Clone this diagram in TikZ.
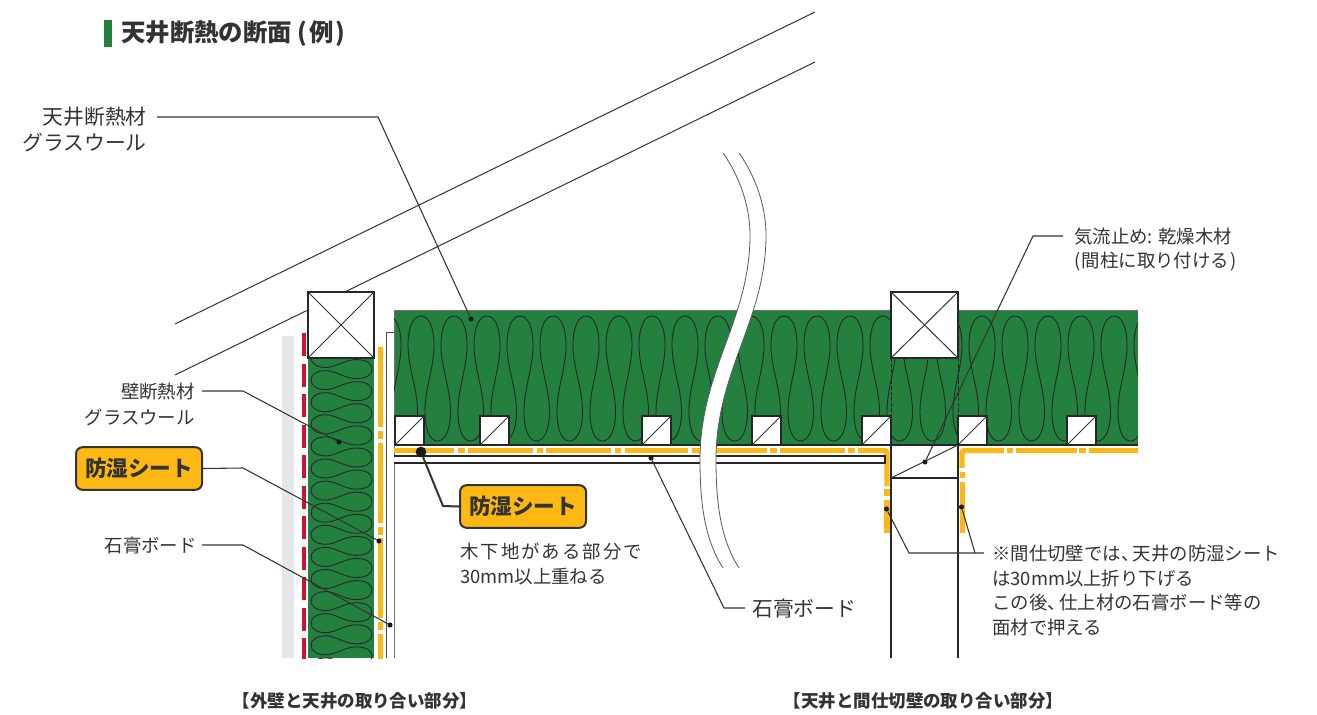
\documentclass[tikz,border=0pt]{standalone}
\usepackage{fontspec}
\setmainfont{Noto Sans CJK JP}
\definecolor{ins}{HTML}{23803F}
\definecolor{amber}{HTML}{FDB813}
\definecolor{redsheet}{HTML}{D0122C}
\definecolor{ink}{HTML}{333333}
\definecolor{board}{HTML}{E6E7E8}
\tikzset{
  px/.style={x=0.75pt,y=-0.75pt},
  txt/.style={inner sep=0pt,text=ink,anchor=west,yshift=-0.7pt},
  txtr/.style={inner sep=0pt,text=ink,anchor=east,yshift=-0.7pt},
  big/.style={font=\fontsize{15.6}{18}\selectfont},
  mid/.style={font=\fontsize{13.8}{16}\selectfont},
  capt/.style={inner sep=0pt,text=ink,font=\bfseries\fontsize{13.1}{15}\selectfont},
  badge/.style={draw=ink,fill=amber,line width=1.5pt,rounded corners=5pt,minimum width=94.5pt,minimum height=32pt,inner sep=0pt,text=ink,font=\bfseries\fontsize{16.2}{18}\selectfont},
  wave/.style={draw=black!85,line width=0.65pt},
  post/.style={draw=black!85,fill=white,line width=1.4pt},
  thin/.style={draw=ink,line width=0.75pt},
  leader/.style={draw=ink,line width=0.8pt},
  dot/.style={circle,fill=black!90,inner sep=0pt,minimum size=3.8pt},
  orange/.style={draw=amber,line width=4pt},
}
\newcommand{\tightcomma}{、\hspace{-5pt}}
\begin{document}
\begin{tikzpicture}[px]
\useasboundingbox (0,0) rectangle (1317,714);
% title
\fill[ins] (104,20) rectangle (112,47);
\node[inner sep=0pt,anchor=west,text=ink,yshift=-0.7pt,font=\bfseries\fontsize{18.3}{20}\selectfont] (title) at (121,33) {天井断熱の断面 (\hspace{1.5pt}例\hspace{1.5pt})};
% roof
\draw[thin] (175,324) -- (815,12);
\draw[thin] (175,375) -- (815,62);
% wall layers
\fill[board] (282,336) rectangle (294,658);
\begin{scope}
\clip (290,320) rectangle (400,658);
\foreach \k in {0,...,10} \fill[redsheet] (302,333+30.5*\k) rectangle (306,356+30.5*\k);
\fill[ins] (308,358) rectangle (374,658);
\begin{scope}
\clip (308,358) rectangle (374,658);
\foreach \k in {0,...,14}{
  \pgfmathsetmacro{\ya}{347+22.1*\k}
  \draw[wave] (372,\ya) .. controls (372,\ya+6) and (366,\ya+9.5) .. (356,\ya+9.5)
     .. controls (345,\ya+9.5) and (335,\ya+1.5) .. (326,\ya+1.5)
     .. controls (316,\ya+1.5) and (311,\ya+6) .. (311,\ya+11)
     .. controls (311,\ya+16) and (316,\ya+20.5) .. (326,\ya+20.5)
     .. controls (335,\ya+20.5) and (345,\ya+12.6) .. (356,\ya+12.6)
     .. controls (366,\ya+12.6) and (372,\ya+16) .. (372,\ya+22.1);
}
\end{scope}
\foreach \k in {0,1,2,3}{
  \fill[amber] (377.5,347+95.7*\k) rectangle (383,427+95.7*\k);
  \fill[amber] (377.5,431+95.7*\k) rectangle (383,439+95.7*\k);
}
\end{scope}
% ceiling insulation
\fill[ins] (394,310.5) rectangle (1138,445);
\draw[line width=0.6pt,draw=black!55] (394,658) -- (394,310.5) -- (891,310.5);
\draw[line width=0.6pt,draw=black!55] (958,310.5) -- (1138,310.5);
\begin{scope}
\clip (394,310.5) rectangle (1138,445);
\foreach \k in {-1,...,22}{
  \pgfmathsetmacro{\xa}{421+33*\k}
  \draw[wave] (\xa,316) .. controls (\xa+8,316) and (\xa+13,328) .. (\xa+13,345)
     .. controls (\xa+13,368) and (\xa+4,388) .. (\xa+4,412)
     .. controls (\xa+4,430) and (\xa+9,441) .. (\xa+16.5,441)
     .. controls (\xa+24,441) and (\xa+29.5,430) .. (\xa+29.5,412)
     .. controls (\xa+29.5,388) and (\xa+20,368) .. (\xa+20,345)
     .. controls (\xa+20,328) and (\xa+25,316) .. (\xa+33,316);
}
\end{scope}
\draw[line width=0.7pt,draw=black!85,dash pattern=on 3pt off 1.2pt] (891,358) -- (891,416);
\draw[line width=0.7pt,draw=black!85,dash pattern=on 3pt off 1.2pt] (958,358) -- (958,416);
\draw[line width=0.8pt,draw=black!85] (394,445) -- (1138,445);
% wall board
\draw[line width=0.7pt,draw=black!70] (394,332) -- (386,332) -- (386,658);
% battens
\foreach \n/\xb in {a/395,b/480,c/642,d/752,e/862,f/958,g/1067}{
  \draw[post] (\xb,416) rectangle (\xb+29,445);
  \draw[thin] (\xb,445) -- (\xb+29,416);
}
% ceiling sheet
\foreach \xa/\xc in {394/454,458/465,468/533,537/543,546/611,615/621,625/688,692/767,770/777,780/845,848/855}
  \fill[amber] (\xa,448) rectangle (\xc,453);
\draw[orange,rounded corners=2pt] (858,450.5) -- (887,450.5) -- (887,486);
\fill[amber] (884,489) rectangle (890,496);
\fill[amber] (884,499.5) rectangle (890,533);
\draw[orange,rounded corners=2pt] (1004,450.5) -- (962,450.5) -- (962,468);
\fill[amber] (959.5,472) rectangle (964.5,478);
\fill[amber] (959.5,482) rectangle (964.5,533);
\foreach \xa/\xc in {1007/1013,1016/1077,1079/1086,1089/1138}
  \fill[amber] (\xa,448) rectangle (\xc,453);
% ceiling board
\draw[line width=0.8pt,draw=black!85,fill=white] (394,456) -- (885,456) -- (885,463) -- (394,463);
% posts
\draw[post] (308,292) rectangle (374,358);
\draw[thin] (308,292) -- (374,358) (308,358) -- (374,292);
\draw[post] (891,292) rectangle (958,358);
\draw[thin] (891,292) -- (958,358) (891,358) -- (958,292);
% partition
\draw[line width=0.8pt,draw=black!85] (891,445) -- (891,658) (958,445) -- (958,658);
\draw[line width=0.8pt,draw=black!85] (891,478) -- (958,478);
\draw[thin] (891,478) -- (958,445);
% break line
\fill[white] (723,153) .. controls (742,180) and (750,210) .. (750,235)
  .. controls (750,320) and (700,370) .. (700,460)
  .. controls (700,505) and (705,540) .. (723,568)
  -- (739,568) .. controls (721,540) and (716,505) .. (716,460)
  .. controls (716,370) and (766,320) .. (766,235)
  .. controls (766,210) and (758,180) .. (739,153) -- cycle;
\draw[line width=0.6pt,draw=black!65] (723,153) .. controls (742,180) and (750,210) .. (750,235)
  .. controls (750,320) and (700,370) .. (700,460)
  .. controls (700,505) and (705,540) .. (723,568);
\draw[line width=0.6pt,draw=black!65] (739,153) .. controls (758,180) and (766,210) .. (766,235)
  .. controls (766,320) and (716,370) .. (716,460)
  .. controls (716,505) and (721,540) .. (739,568);
% labels
\node[txtr,big] (l1) at (147,116) {天井断熱材};
\node[txtr,big] at (147,142) {グラスウール};
\node[txtr,mid] (l2) at (195,391) {壁断熱材};
\node[txtr,mid] at (195,416) {グラスウール};
\node[badge] (b1) at (139,468.5) {防湿シート};
\node[txtr,mid] (l3) at (197,545) {石膏ボード};
\node[badge] (b2) at (523,506.5) {防湿シート};
\node[txt,font=\fontsize{13.8}{16}\selectfont\addfontfeature{LetterSpace=11}] at (460,551) {木下地がある部分で};
\node[txt,mid] at (460,576) {30mm以上重ねる};
\node[txt,big] (l4) at (752,608) {石膏ボード};
\node[txt,mid] (l5) at (1074,236) {気流止め: 乾燥木材};
\node[txt,mid] at (1074,261) {(\hspace{1pt}間柱に取り付ける\hspace{1pt})};
\node[txt,mid] (l6) at (992,553) {※間仕切壁では\tightcomma 天井の防湿シート};
\node[txt,mid] at (992,578) {は30mm以上折り下げる};
\node[txt,mid] at (992,602) {この後\tightcomma 仕上材の石膏ボード等の};
\node[txt,mid] at (992,627) {面材で押える};
\node[capt] at (355,701) {【外壁と天井の取り合い部分】};
\node[capt] at (923.5,701) {【天井と間仕切壁の取り合い部分】};
% dots
\node[dot] (d1) at (471,319) {};
\node[dot] (d2) at (339,442) {};
\node[dot] (d3) at (379,541) {};
\node[dot] (d4) at (390,625) {};
\node[dot,minimum size=8pt] (d5) at (421,452) {};
\node[dot] (d6) at (651,458) {};
\node[dot] (d7) at (925,462) {};
\node[dot] (d8) at (886.5,509) {};
\node[dot] (d9) at (961.5,507) {};
% leaders
\coordinate (s1) at (157,117); \coordinate (e1) at (378,117);
\draw[leader] (s1) -- (e1) -- (d1);
\coordinate (s2) at (202,391); \coordinate (e2) at (243,391);
\draw[leader] (s2) -- (e2) -- (d2);
\coordinate (e3) at (243,468);
\draw[leader] (b1.east) -- (e3) -- (d3);
\coordinate (s4) at (202,545); \coordinate (e4) at (243,545);
\draw[leader] (s4) -- (e4) -- (d4);
\coordinate (e5) at (443,506);
\draw[draw=ink,line width=1.5pt] (d5) -- (e5) -- (b2.west);
\coordinate (s6) at (745,608); \coordinate (e6) at (724,608);
\draw[leader] (d6) -- (e6) -- (s6);
\coordinate (s7) at (1063,236); \coordinate (e7) at (1033,236);
\draw[leader] (d7) -- (e7) -- (s7);
\coordinate (e8) at (909,553); \coordinate (e9) at (975,553); \coordinate (s8) at (984,553);
\draw[leader] (d8) -- (e8) -- (s8);
\draw[leader] (d9) -- (e9);
\end{tikzpicture}
\end{document}
